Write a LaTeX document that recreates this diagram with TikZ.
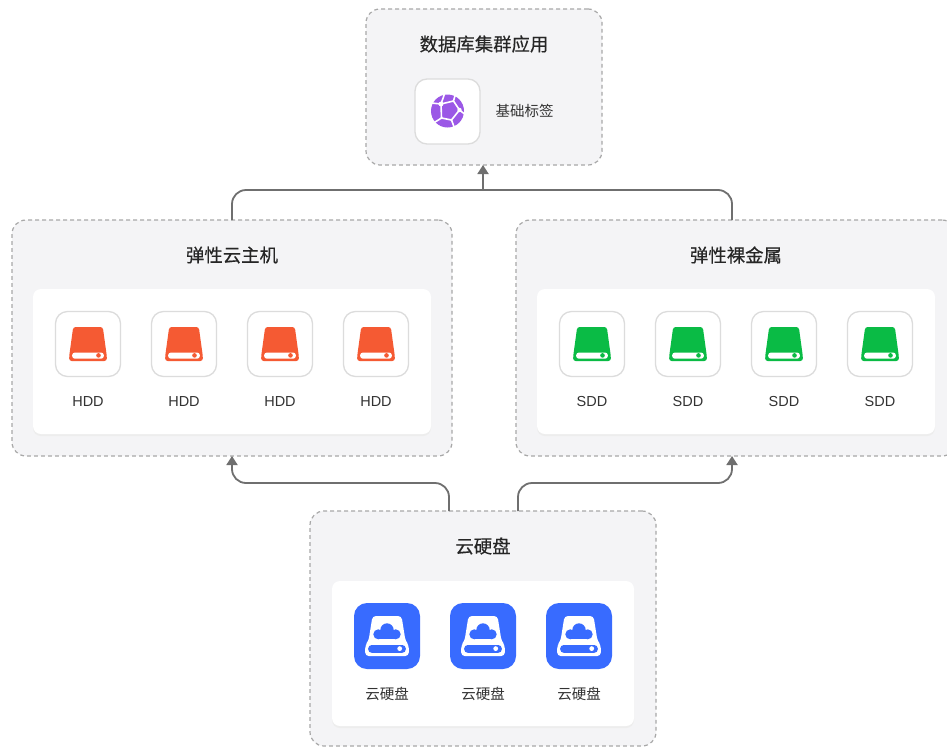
\documentclass[tikz,border=0pt]{standalone}
\usepackage{fontspec}
\setmainfont{Liberation Sans}
\newfontfamily\cjk{Noto Sans CJK SC}
\newfontfamily\cjkm[FakeBold=0.35]{Noto Sans CJK SC}
\usetikzlibrary{arrows.meta,calc}
\definecolor{panelgrey}{HTML}{F4F4F6}
\definecolor{dashgrey}{HTML}{A8A8A8}
\definecolor{linegrey}{HTML}{6F6F6F}
\definecolor{framegrey}{HTML}{DCDCDC}
\definecolor{inkgrey}{HTML}{333333}
\definecolor{diskred}{HTML}{F55A33}
\definecolor{diskgreen}{HTML}{0ABB45}
\definecolor{diskblue}{HTML}{386BFF}
\definecolor{ballpurple}{HTML}{9B58E6}
\tikzset{
  groupbox/.style={draw=dashgrey,fill=panelgrey,line width=1.2pt,dash pattern=on 3.8pt off 3.2pt,rounded corners=14pt,inner sep=0pt,outer sep=0pt},
  whitepanel/.style={fill=white,rounded corners=8pt,inner sep=0pt,outer sep=0pt},
  panelshade/.style={fill=black!7,rounded corners=8pt,inner sep=0pt},
  iconframe/.style={draw=framegrey,line width=1.3pt,fill=white,rounded corners=12pt,minimum size=65pt,inner sep=0pt,outer sep=0pt},
  blueframe/.style={fill=diskblue,rounded corners=13pt,minimum size=66pt,inner sep=0pt,outer sep=0pt},
  grouptitle/.style={font=\fontsize{18.4}{20}\selectfont\cjkm,text=black!85},
  itemlabel/.style={font=\fontsize{14.5}{16}\selectfont,text=inkgrey,inner sep=0pt},
  conn/.style={draw=linegrey,line width=1.8pt,rounded corners=14pt},
  connhead/.style={-{Triangle[length=9pt,width=11pt]}},
}
\newcommand{\hddicon}[5]{%
  \node[iconframe] (#1) at (#2,#3) {};
  \begin{scope}[shift={(#2,#3)}]
    \fill[#4,rounded corners=2.5pt] (-14.8,-17) -- (14.8,-17) -- (18.8,12) -- (18.8,17) -- (-18.8,17) -- (-18.8,12) -- cycle;
    \fill[white,rounded corners=2.5pt] (-15.8,8.6) rectangle (15.8,14.6);
    \fill[#4] (10.5,11.4) circle (2.3);
  \end{scope}
  \node[itemlabel] (#1l) at (#2,#3+57.5) {#5};
}
\newcommand{\cloudicon}[3]{%
  \node[blueframe] (#1) at (#2,#3) {};
  \begin{scope}[shift={(#2,#3)}]
    \fill[white,rounded corners=3.5pt] (-14.5,-20) -- (14.5,-20) -- (18.5,5) -- (21.8,9) -- (21.8,20) -- (-21.8,20) -- (-21.8,9) -- (-18.5,5) -- cycle;
    \fill[diskblue,rounded corners=3.5pt] (-18.8,9) rectangle (18.8,16.8);
    \fill[white] (12.7,12.6) circle (2.4);
    \fill[diskblue] (-8.7,-1.7) circle (5) (8.7,-1.7) circle (5) (0,-6) circle (6.7);
    \fill[diskblue] (-8.7,-3) rectangle (8.7,3.3);
  \end{scope}
  \node[itemlabel,font=\fontsize{14.5}{16}\selectfont\cjk] (#1l) at (#2,#3+57.5) {云硬盘};
}
\begin{document}
\begin{tikzpicture}[x=1pt,y=-1pt]
\useasboundingbox (0,0) rectangle (947,747);
\fill[white] (0,0) rectangle (947,747);
\clip (0,0) rectangle (947,747);

% group containers
\node[groupbox,minimum width=236pt,minimum height=156pt] (db) at (484,87) {};
\node[groupbox,minimum width=440pt,minimum height=236pt] (vm) at (232,338) {};
\node[groupbox,minimum width=440pt,minimum height=236pt] (bm) at (736,338) {};
\node[groupbox,minimum width=346pt,minimum height=235pt] (disk) at (483,628.5) {};

% titles
\node[grouptitle] (dbt) at (484,44) {数据库集群应用};
\node[grouptitle] (vmt) at (232,255) {弹性云主机};
\node[grouptitle] (bmt) at (736,255) {弹性裸金属};
\node[grouptitle] (diskt) at (483,546) {云硬盘};

% white panels
\fill[panelshade] (33,291) rectangle (431,436);
\node[whitepanel,minimum width=398pt,minimum height=145pt] (vmp) at (232,361.5) {};
\fill[panelshade] (537,291) rectangle (935,436);
\node[whitepanel,minimum width=398pt,minimum height=145pt] (bmp) at (736,361.5) {};
\fill[panelshade] (332,583) rectangle (634,728);
\node[whitepanel,minimum width=302pt,minimum height=145pt] (diskp) at (483,653.5) {};

% label icon
\node[iconframe] (tag) at (447.5,111.5) {};
\begin{scope}[shift={(447.5,111)}]
  \fill[ballpurple] (0,0) circle (16.5);
  \draw[white,line width=1.6pt,line join=round]
    (-6.5,-7) -- (6,-10) -- (12,-1) -- (4,9) -- (-6,7) -- cycle
    (-6.5,-7) -- (-16,-8) (-6.5,-7) -- (-3,-17)
    (6,-10) -- (8,-17)
    (12,-1) -- (17,3)
    (4,9) -- (7,17)
    (-6,7) -- (-14,12);
  \fill[white] (-6.5,-7) circle (2.4) (12,-1) circle (2.2) (-6,7) circle (1.2) (4,9) circle (1.2);
\end{scope}
\node[itemlabel,font=\fontsize{14.5}{16}\selectfont\cjk] (tagl) at (524.5,110.5) {基础标签};

% HDD
\hddicon{h1}{88}{344}{diskred}{HDD}
\hddicon{h2}{184}{344}{diskred}{HDD}
\hddicon{h3}{280}{344}{diskred}{HDD}
\hddicon{h4}{376}{344}{diskred}{HDD}
% SDD
\hddicon{s1}{592}{344}{diskgreen}{SDD}
\hddicon{s2}{688}{344}{diskgreen}{SDD}
\hddicon{s3}{784}{344}{diskgreen}{SDD}
\hddicon{s4}{880}{344}{diskgreen}{SDD}
% cloud disks
\cloudicon{c1}{387}{636}
\cloudicon{c2}{483}{636}
\cloudicon{c3}{579}{636}

% connectors
\coordinate (bus) at (483,190);
\coordinate (mid) at (483,483);
\coordinate (bmin) at ($(bm.north)+(-4,0)$);
\coordinate (bmout) at ($(bm.south)+(-4,0)$);
\coordinate (dl) at ($(disk.north)+(-34,0)$);
\coordinate (dr) at ($(disk.north)+(35,0)$);
\draw[conn] (vm.north) |- (bus) -| (bmin);
\draw[conn,connhead,rounded corners=0pt] (bus) -- (bus|-db.south);
\draw[conn,connhead] (dl) -- (dl|-mid) -- (vm.south|-mid) -- (vm.south);
\draw[conn,connhead] (dr) -- (dr|-mid) -- (bmout|-mid) -- (bmout);
\end{tikzpicture}
\end{document}
